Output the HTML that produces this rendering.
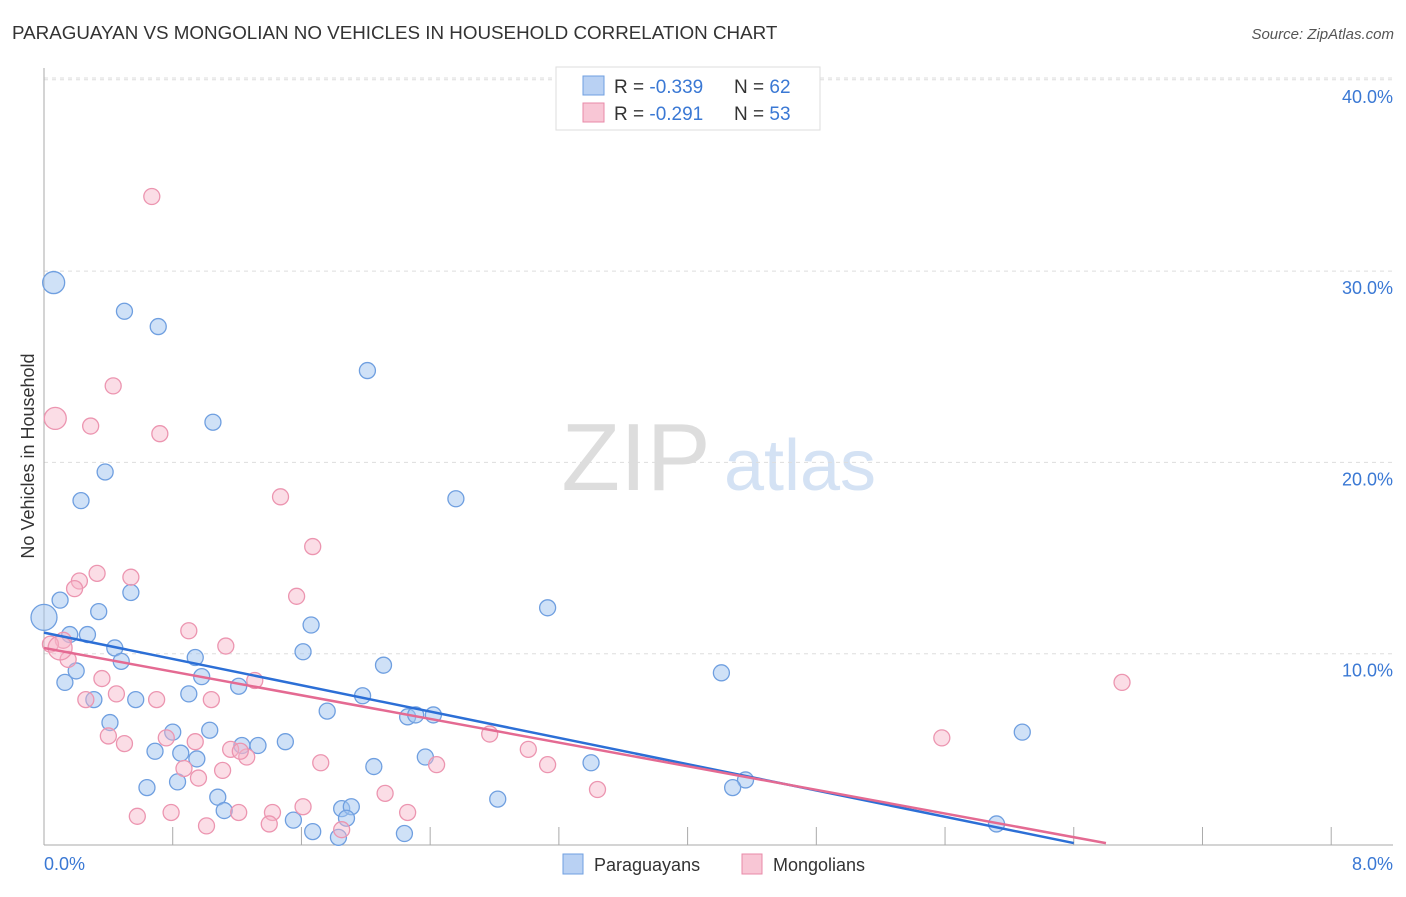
<!DOCTYPE html>
<html><head><meta charset="utf-8"><style>
body{margin:0;background:#fff;font-family:"Liberation Sans",sans-serif;}
svg text{font-family:"Liberation Sans",sans-serif;}
</style></head><body>
<svg id="chart" width="1406" height="892" xmlns="http://www.w3.org/2000/svg">
<text x="12" y="39" font-size="18.8" fill="#333">PARAGUAYAN VS MONGOLIAN NO VEHICLES IN HOUSEHOLD CORRELATION CHART</text>
<text x="1394" y="39" font-size="15" fill="#555" text-anchor="end" font-style="italic">Source: ZipAtlas.com</text>
<g>
<text x="636" y="490" font-size="96" fill="#ddd" text-anchor="middle" font-family="Liberation Serif">ZIP</text>
<text x="800" y="490" font-size="72" fill="#d4e2f4" text-anchor="middle">atlas</text>
</g>
<g id="grid"></g>
<g id="axes"></g>
<g id="points"></g>
<g id="lines"></g>
<text transform="translate(34,456) rotate(-90)" font-size="18" fill="#333" text-anchor="middle">No Vehicles in Household</text>
<text x="44" y="870" font-size="18" fill="#3a78d4">0.0%</text>
<text x="1393" y="870" font-size="18" fill="#3a78d4" text-anchor="end">8.0%</text>
<g>
<rect x="556" y="67" width="264" height="63" fill="#fff" stroke="#ddd"/>
<rect x="583" y="76" width="21" height="19" fill="#b9d1f3" stroke="#6f9fe0"/>
<text x="614" y="93" font-size="19" fill="#333">R = <tspan fill="#3a78d4">-0.339</tspan></text>
<text x="734" y="93" font-size="19" fill="#333">N = <tspan fill="#3a78d4">62</tspan></text>
<rect x="583" y="103" width="21" height="19" fill="#f8c6d5" stroke="#e88aa8"/>
<text x="614" y="120" font-size="19" fill="#333">R = <tspan fill="#3a78d4"> -0.291</tspan></text>
<text x="734" y="120" font-size="19" fill="#333">N = <tspan fill="#3a78d4">53</tspan></text>
</g>
<g>
<rect x="563" y="854" width="20" height="20" fill="#b9d1f3" stroke="#6f9fe0"/>
<text x="594" y="871" font-size="18" fill="#333">Paraguayans</text>
</g>
<g>
<rect x="742" y="854" width="20" height="20" fill="#f8c6d5" stroke="#e88aa8"/>
<text x="773" y="871" font-size="18" fill="#333">Mongolians</text>
</g>
</svg>
<script>
const yTicks=[10,20,30,40];
const yTickLabels=["10.0%","20.0%","30.0%","40.0%"];
const xTicks=[0,0.8,1.6,2.4,3.2,4.0,4.8,5.6,6.4,7.2,8.0];
const paraX=[0.06,0.50,0.71,2.01,1.05,0.38,0.23,2.56,3.13,0.10,0.54,0.34,1.66,0.27,0.16,0.44,0.48,0.94,1.61,0.20,2.11,0.13,0.98,1.21,0.90,1.98,0.31,0.57,1.76,2.26,2.31,2.42,4.21,0.41,1.03,0.80,1.50,1.33,1.23,0.69,0.85,0.95,2.37,3.40,2.05,4.36,4.28,0.83,0.64,1.08,2.82,1.12,1.85,1.91,1.55,1.88,1.67,1.83,2.24,5.92,6.08,0.0];
const paraY=[29.4,27.9,27.1,24.8,22.1,19.5,18.0,18.1,12.4,12.8,13.2,12.2,11.5,11.0,11.0,10.3,9.6,9.8,10.1,9.1,9.4,8.5,8.8,8.3,7.9,7.8,7.6,7.6,7.0,6.7,6.8,6.8,9.0,6.4,6.0,5.9,5.4,5.2,5.2,4.9,4.8,4.5,4.6,4.3,4.1,3.4,3.0,3.3,3.0,2.5,2.4,1.8,1.9,2.0,1.3,1.4,0.7,0.4,0.6,1.1,5.9,11.9];
const paraR=[11,8,8,8,8,8,8,8,8,8,8,8,8,8,8,8,8,8,8,8,8,8,8,8,8,8,8,8,8,8,8,8,8,8,8,8,8,8,8,8,8,8,8,8,8,8,8,8,8,8,8,8,8,8,8,8,8,8,8,8,8,13];
const mongX=[0.67,0.07,0.43,0.29,0.72,1.47,1.67,0.33,0.54,0.22,0.19,1.57,0.90,0.12,1.13,0.04,0.15,1.31,0.36,0.45,0.70,1.04,0.26,6.70,2.77,5.58,0.40,0.50,0.76,0.94,1.16,1.26,1.22,3.01,1.72,3.13,2.44,0.87,1.11,0.96,2.12,3.44,0.79,0.58,1.21,1.42,1.61,2.26,1.01,1.40,1.85,0.10];
const mongY=[33.9,22.3,24.0,21.9,21.5,18.2,15.6,14.2,14.0,13.8,13.4,13.0,11.2,10.7,10.4,10.5,9.7,8.6,8.7,7.9,7.6,7.6,7.6,8.5,5.8,5.6,5.7,5.3,5.6,5.4,5.0,4.6,4.9,5.0,4.3,4.2,4.2,4.0,3.9,3.5,2.7,2.9,1.7,1.5,1.7,1.7,2.0,1.7,1.0,1.1,0.8,10.3];
const mongR=[8,11,8,8,8,8,8,8,8,8,8,8,8,8,8,8,8,8,8,8,8,8,8,8,8,8,8,8,8,8,8,8,8,8,8,8,8,8,8,8,8,8,8,8,8,8,8,8,8,8,8,12];
const paraLine=[[0,11.1],[6.4,0.1]];
const mongLine=[[0,10.3],[6.6,0.1]];
const NS="http://www.w3.org/2000/svg";
const X=v=>44+v*160.9;
const Y=v=>845-v*19.13;
function mk(tag,attrs,parent){const e=document.createElementNS(NS,tag);for(const k in attrs)e.setAttribute(k,attrs[k]);document.getElementById(parent).appendChild(e);return e;}
yTicks.forEach((t,i)=>{
 const l=mk('line',{x1:44,x2:1393,y1:Y(t),y2:Y(t),stroke:'#ddd','stroke-dasharray':'4,4'},'grid');
 
 
 const tx=mk('text',{x:1393,y:Y(t)+23,'font-size':18,fill:'#3a78d4','text-anchor':'end'},'grid');
 tx.textContent=yTickLabels[i];
 
 
});
const topGrid=mk('line',{x1:44,x2:1393,y1:78,y2:78,stroke:'#ddd','stroke-dasharray':'4,4'},'grid');


const ya=mk('line',{x1:44,x2:44,y1:68,y2:845,stroke:'#aaa'},'axes');


const xa=mk('line',{x1:44,x2:1393,y1:845,y2:845,stroke:'#aaa'},'axes');


xTicks.forEach(t=>{
 const l=mk('line',{x1:X(t),x2:X(t),y1:827,y2:845,stroke:'#aaa'},'axes');
 
 
});
paraX.forEach((v,i)=>{
 const c=mk('circle',{cx:X(v),cy:Y(paraY[i]),r:paraR[i],fill:'rgba(160,196,240,0.5)',stroke:'#6f9fe0','stroke-width':1.3},'points');
 
 
});
mongX.forEach((v,i)=>{
 const c=mk('circle',{cx:X(v),cy:Y(mongY[i]),r:mongR[i],fill:'rgba(246,180,200,0.45)',stroke:'#ec95b0','stroke-width':1.3},'points');
 
 
});
const pl=mk('line',{x1:X(paraLine[0][0]),y1:Y(paraLine[0][1]),x2:X(paraLine[1][0]),y2:Y(paraLine[1][1]),stroke:'#2c6fd6','stroke-width':2.5},'lines');


const ml=mk('line',{x1:X(mongLine[0][0]),y1:Y(mongLine[0][1]),x2:X(mongLine[1][0]),y2:Y(mongLine[1][1]),stroke:'#e46a92','stroke-width':2.5},'lines');


</script>
</body></html>
